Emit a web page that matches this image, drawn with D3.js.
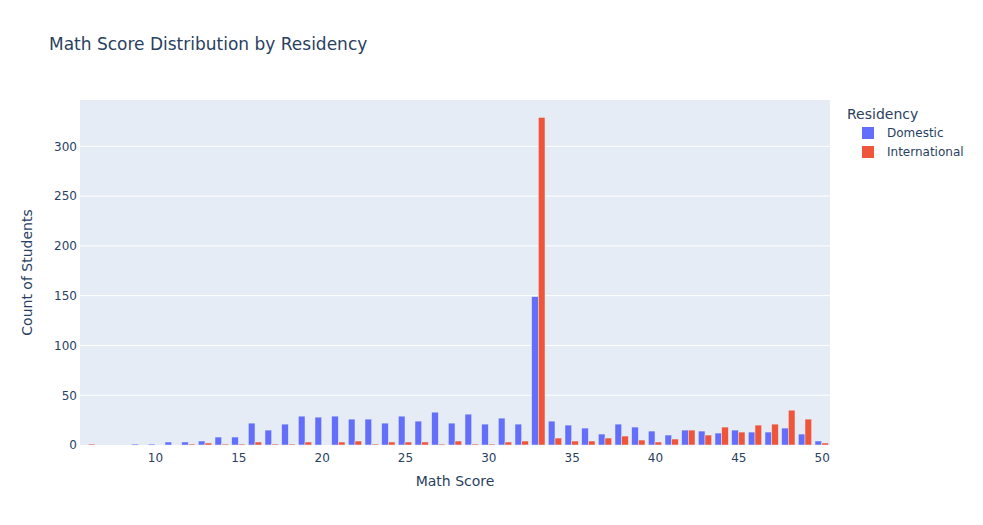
<!DOCTYPE html>
<html>
<head>
<meta charset="utf-8">
<script src="https://cdn.jsdelivr.net/npm/d3@7"></script>
<style>
  body { margin: 0; background: #fff; }
  text { font-family: "DejaVu Sans", Verdana, sans-serif; }
</style>
</head>
<body>
<svg id="chart" width="983" height="525"></svg>
<script>
// histogram bins (integer scores), counts per residency group
const scores = d3.range(6, 51);
const domestic = [0, 0, 0, 1, 1, 3, 3, 4, 8, 8, 22, 15, 21, 29, 28, 29, 26, 26, 22, 29, 24, 33, 22, 31, 21, 27, 21, 149,
  24, 20, 17, 11, 21, 18, 14, 10, 15, 14, 12, 15, 13, 13, 17, 11, 4];
const international = [1, 0, 0, 0, 0, 0, 1, 2, 1, 1, 3, 1, 1, 3, 0, 3, 4, 1, 3, 3, 3, 1, 4, 1, 1, 3, 4, 329,
  7, 4, 4, 7, 9, 5, 3, 6, 15, 10, 18, 13, 20, 21, 35, 26, 2];
const groups = ["Domestic", "International"];
const xTicks = [10, 15, 20, 25, 30, 35, 40, 45, 50];
const yTicks = [0, 50, 100, 150, 200, 250, 300];

const colors = { Domestic: "#636efa", International: "#EF553B" };
const textColor = "#2a3f5f";

const width = 983, height = 525;
const margin = { top: 100, right: 153, bottom: 80, left: 80 };
const innerW = width - margin.left - margin.right;
const innerH = height - margin.top - margin.bottom;

const svg = d3.select("#chart");

const x = d3.scaleLinear().domain([5.5, 50.5]).range([0, innerW]);
const y = d3.scaleLinear().domain([0, 346.5]).range([innerH, 0]);

const g = svg.append("g")
  .attr("transform", `translate(${margin.left},${margin.top})`);

g.append("rect")
  .attr("width", innerW)
  .attr("height", innerH)
  .attr("fill", "#E5ECF6");

// horizontal gridlines only
g.append("g")
  .selectAll("line")
  .data(yTicks.slice(1))
  .join("line")
  .attr("x1", 0).attr("x2", innerW)
  .attr("y1", d => y(d)).attr("y2", d => y(d))
  .attr("stroke", "#fff").attr("stroke-width", 1);

// grouped bars, bargap 0.2
const binW = x(1) - x(0);
const groupW = binW * 0.8;
const barW = groupW / groups.length;

const rows = [];
scores.forEach((s, i) => {
  [domestic[i], international[i]].forEach((v, k) => {
    if (v > 0) rows.push({ score: s, value: v, group: groups[k], k });
  });
});

g.append("g")
  .selectAll("rect")
  .data(rows)
  .join("rect")
  .attr("x", d => x(d.score) - groupW / 2 + d.k * barW)
  .attr("y", d => y(d.value))
  .attr("width", barW)
  .attr("height", d => y(0) - y(d.value))
  .attr("fill", d => colors[d.group])
  .attr("stroke", "#E5ECF6")
  .attr("stroke-width", 0.5);

// axes
const xAxis = g.append("g")
  .attr("transform", `translate(0,${innerH})`)
  .call(d3.axisBottom(x).tickValues(xTicks).tickSize(0).tickPadding(8));
xAxis.select(".domain").remove();
xAxis.selectAll("text").attr("fill", textColor).attr("font-size", 12);

const yAxis = g.append("g")
  .call(d3.axisLeft(y).tickValues(yTicks).tickSize(0).tickPadding(3));
yAxis.select(".domain").remove();
yAxis.selectAll("text").attr("fill", textColor).attr("font-size", 12);

// titles
svg.append("text")
  .attr("x", 49).attr("y", 50)
  .attr("font-size", 17).attr("fill", textColor)
  .text("Math Score Distribution by Residency");

svg.append("text")
  .attr("x", margin.left + innerW / 2).attr("y", 486)
  .attr("text-anchor", "middle")
  .attr("font-size", 14).attr("fill", textColor)
  .text("Math Score");

svg.append("text")
  .attr("transform", `translate(32,${margin.top + innerH / 2}) rotate(-90)`)
  .attr("text-anchor", "middle")
  .attr("font-size", 14).attr("fill", textColor)
  .text("Count of Students");

// legend
const legend = svg.append("g").attr("transform", "translate(847,0)");
legend.append("text")
  .attr("x", 0).attr("y", 119)
  .attr("font-size", 14).attr("fill", textColor)
  .text("Residency");

const item = legend.selectAll("g.item")
  .data(groups)
  .join("g")
  .attr("class", "item")
  .attr("transform", (d, i) => `translate(0,${133 + i * 19})`);
item.append("rect")
  .attr("x", 15).attr("y", -6)
  .attr("width", 12).attr("height", 12)
  .attr("fill", d => colors[d]);
item.append("text")
  .attr("x", 40).attr("y", 4)
  .attr("font-size", 12).attr("fill", textColor)
  .text(d => d);
</script>
</body>
</html>
